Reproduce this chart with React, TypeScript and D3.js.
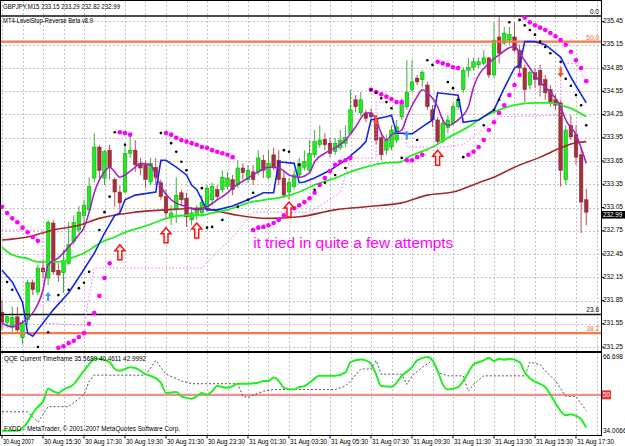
import React from "react";
import * as d3 from "d3";

// GBPJPY M15, one entry per bar: 30 Aug 13:30 -> 31 Aug 18:00
const opens = [
  231.70, 231.57, 231.52, 231.64, 231.37, 231.60, 232.08, 231.96, 232.27, 232.14,
  232.85, 232.24, 232.21, 232.33, 232.61, 232.76, 232.95, 233.02, 233.43, 233.83,
  233.43, 233.79, 233.41, 233.25, 233.25, 233.75, 233.79, 233.62, 233.60, 233.38,
  233.57, 233.37, 233.19, 232.93, 233.02, 233.24, 233.17, 232.89, 232.95, 232.98,
  233.02, 233.15, 233.28, 233.28, 233.32, 233.41, 233.34, 233.56, 233.41, 233.51,
  233.51, 233.66, 233.44, 233.73, 233.66, 233.43, 233.25, 233.32, 233.47, 233.57,
  233.53, 233.73, 233.86, 233.93, 233.88, 233.77, 233.82, 233.88, 234.01, 234.44,
  234.27, 234.27, 234.27, 234.20, 233.95, 233.79, 233.83, 233.92, 234.22, 234.35,
  234.57, 234.72, 234.70, 234.63, 234.31, 234.18, 233.90, 234.08, 234.14, 234.35,
  234.57, 234.82, 234.86, 234.89, 234.91, 234.98, 234.76, 235.25, 235.17, 235.21,
  235.25, 235.08, 234.85, 234.63, 234.79, 234.82, 234.70, 234.57, 234.44, 234.40,
  233.41, 234.11, 233.99, 233.73, 233.15,
];
const highs = [
  231.86, 231.66, 231.77, 231.77, 231.60, 232.12, 232.12, 232.31, 232.37, 232.89,
  232.89, 232.33, 232.50, 232.86, 232.95, 233.07, 233.15, 233.44, 234.01, 233.86,
  233.79, 233.86, 233.44, 233.34, 233.88, 233.99, 233.92, 233.69, 233.66, 233.69,
  233.69, 233.41, 233.28, 233.08, 233.44, 233.28, 233.24, 233.06, 233.08, 233.21,
  233.34, 233.37, 233.34, 233.53, 233.51, 233.47, 233.66, 233.62, 233.60, 233.60,
  233.79, 233.73, 233.79, 233.82, 233.79, 233.53, 233.43, 233.53, 233.69, 233.79,
  233.92, 234.05, 234.11, 234.01, 233.95, 233.95, 234.05, 234.11, 234.57, 234.50,
  234.54, 234.31, 234.33, 234.24, 234.01, 233.99, 234.11, 234.18, 234.46, 234.95,
  234.95, 234.76, 234.82, 234.67, 234.37, 234.22, 234.22, 234.24, 234.40, 234.50,
  234.86, 234.98, 234.98, 234.99, 235.08, 234.99, 235.44, 235.51, 235.38, 235.38,
  235.44, 235.15, 234.89, 234.82, 234.85, 234.89, 234.76, 234.63, 234.50, 234.44,
  234.11, 234.24, 234.11, 233.82, 233.29,
];
const lows = [
  231.47, 231.50, 231.43, 231.43, 231.28, 231.53, 231.92, 231.92, 232.14, 232.05,
  232.18, 232.09, 231.95, 232.31, 232.57, 232.73, 232.79, 232.98, 233.37, 233.41,
  233.34, 233.41, 233.06, 232.98, 233.24, 233.69, 233.51, 233.47, 233.30, 233.34,
  233.34, 233.15, 232.89, 232.82, 232.85, 233.08, 232.80, 232.82, 232.89, 232.93,
  232.99, 233.08, 233.15, 233.24, 233.28, 233.21, 233.30, 233.41, 233.37, 233.34,
  233.47, 233.43, 233.41, 233.53, 233.34, 233.17, 233.15, 233.28, 233.43, 233.53,
  233.51, 233.69, 233.82, 233.79, 233.70, 233.73, 233.79, 233.83, 233.99, 234.28,
  234.23, 234.15, 234.18, 233.86, 233.66, 233.73, 233.79, 233.88, 234.18, 234.31,
  234.53, 234.63, 234.60, 234.31, 234.09, 233.86, 233.88, 234.01, 234.11, 234.31,
  234.53, 234.73, 234.82, 234.85, 234.88, 234.72, 234.73, 234.91, 235.15, 235.15,
  235.06, 234.76, 234.41, 234.57, 234.59, 234.48, 234.44, 234.35, 234.31, 233.32,
  233.34, 233.92, 233.60, 232.72, 232.82,
];
const closes = [
  231.57, 231.64, 231.63, 231.47, 231.56, 232.08, 231.99, 232.27, 232.22, 232.86,
  232.22, 232.18, 232.37, 232.57, 232.86, 232.99, 233.08, 233.32, 233.83, 233.53,
  233.77, 233.57, 233.25, 233.11, 233.75, 233.79, 233.60, 233.56, 233.41, 233.62,
  233.44, 233.19, 232.98, 232.98, 233.21, 233.15, 232.93, 232.98, 233.02, 233.12,
  233.30, 233.32, 233.19, 233.44, 233.43, 233.28, 233.56, 233.50, 233.53, 233.41,
  233.69, 233.53, 233.62, 233.57, 233.41, 233.21, 233.37, 233.47, 233.62, 233.64,
  233.75, 233.90, 233.92, 233.86, 233.75, 233.88, 233.92, 233.95, 234.31, 234.35,
  234.44, 234.20, 234.22, 233.92, 233.73, 233.92, 234.05, 234.09, 234.41, 234.54,
  234.67, 234.67, 234.79, 234.35, 234.18, 233.90, 234.14, 234.18, 234.35, 234.44,
  234.82, 234.86, 234.93, 234.93, 234.98, 234.76, 235.21, 235.04, 235.30, 235.28,
  235.08, 234.85, 234.57, 234.79, 234.70, 234.63, 234.53, 234.41, 234.37, 233.53,
  234.05, 233.96, 233.70, 233.12, 232.99,
];

// indicator lines as [bar, price]
const blueLine: [number, number][] = [
  [0, 232.24], [2, 232.09], [4, 231.83], [5, 231.43], [6, 231.39], [8, 231.56], [10, 231.73],
  [13, 231.95], [15, 232.15], [18, 232.46], [20, 232.72], [22, 232.95], [23, 232.98], [24, 233.15],
  [26, 233.21], [30, 233.25], [31, 233.66], [32, 233.66], [34, 233.57], [36, 233.47], [37, 233.34],
  [38, 233.28], [39, 233.15], [40, 233.02], [42, 233.02], [45, 233.07], [48, 233.15], [51, 233.24],
  [53, 233.24], [54, 233.64], [57, 233.62], [58, 233.37], [59, 233.38], [61, 233.43], [64, 233.53],
  [67, 233.66], [70, 233.83], [71, 233.90], [72, 234.18], [75, 234.22], [76, 234.24], [77, 234.01],
  [80, 234.0], [82, 234.09], [84, 234.18], [85, 234.53], [89, 234.50], [90, 234.15], [93, 234.18],
  [96, 234.31], [98, 234.59], [100, 234.85], [101, 234.89], [102, 235.19], [104, 235.19],
  [106, 235.15], [109, 234.99], [111, 234.73], [114, 234.40],
];
const purpleLine: [number, number][] = [
  [0, 231.56], [2, 231.51], [4, 231.57], [6, 231.69], [8, 231.99], [9, 232.31], [11, 232.40],
  [13, 232.54], [15, 232.70], [16, 232.79], [17, 232.99], [18, 233.24], [20, 233.51], [21, 233.57],
  [22, 233.51], [23, 233.44], [24, 233.47], [26, 233.57], [27, 233.62], [29, 233.60], [30, 233.47],
  [31, 233.32], [33, 233.15], [36, 233.06], [38, 233.02], [40, 233.06], [42, 233.15], [44, 233.24],
  [45, 233.30], [48, 233.43], [50, 233.51], [52, 233.57], [54, 233.56], [56, 233.47], [58, 233.44],
  [60, 233.50], [61, 233.64], [63, 233.75], [65, 233.82], [67, 233.92], [69, 234.09], [71, 234.27],
  [72, 234.27], [73, 234.18], [74, 234.01], [75, 233.92], [76, 233.99], [78, 234.05], [79, 234.22],
  [81, 234.48], [82, 234.57], [83, 234.53], [85, 234.35], [86, 234.18], [87, 234.11], [89, 234.18],
  [91, 234.35], [92, 234.60], [95, 234.91], [97, 235.02], [99, 235.11], [100, 235.13], [101, 235.04],
  [103, 234.85], [105, 234.67], [108, 234.46], [109, 234.35], [110, 234.18], [112, 233.99],
  [114, 233.62],
];
const greenMa: [number, number][] = [
  [0, 232.54], [2, 232.44], [5, 232.39], [7, 232.35], [11, 232.35], [14, 232.41], [17, 232.50],
  [19, 232.59], [22, 232.67], [24, 232.73], [27, 232.79], [30, 232.86], [32, 232.91], [36, 232.95],
  [39, 232.95], [41, 232.98], [44, 233.02], [48, 233.11], [55, 233.19], [58, 233.25], [61, 233.34],
  [65, 233.43], [68, 233.51], [71, 233.57], [74, 233.62], [78, 233.64], [79, 233.69], [81, 233.75],
  [84, 233.83], [87, 233.95], [91, 234.09], [94, 234.22], [97, 234.31], [100, 234.37], [104, 234.40],
  [107, 234.40], [109, 234.37], [111, 234.33], [114, 234.22],
];
const brownMa: [number, number][] = [
  [0, 232.63], [5, 232.67], [10, 232.76], [15, 232.82], [19, 232.91], [26, 232.99], [32, 233.02],
  [39, 233.04], [43, 232.99], [46, 232.95], [52, 232.91], [58, 232.93], [65, 233.02], [71, 233.06],
  [78, 233.11], [83, 233.21], [88, 233.25], [93, 233.37], [96, 233.44], [100, 233.57], [105, 233.70],
  [109, 233.82], [111, 233.87], [114, 233.90],
];
const stopLine: [number, number][] = [
  [0, 232.76], [8, 232.76], [8, 231.56], [16, 231.53], [18, 232.27], [39, 232.27], [41, 232.41],
  [45, 232.67], [49, 232.99], [60, 232.99], [66, 233.24], [68, 233.69], [73, 233.69], [73, 234.41],
  [78, 234.41], [79, 233.83], [86, 233.83], [90, 233.86], [97, 234.22], [109, 234.24], [109, 234.91],
  [112, 234.91], [114, 234.67],
];
const sarDots: [number, number][] = [
  [0, 233.06], [1, 232.98], [2, 232.91], [3, 232.86], [4, 232.79], [5, 232.73], [6, 232.67], [7, 232.62],
  [11, 231.24], [12, 231.26], [13, 231.30], [14, 231.33], [15, 231.38], [16, 231.43], [17, 231.55],
  [18, 231.69], [19, 231.91], [20, 232.14], [21, 232.33],
  [23, 234.02], [24, 234.01], [25, 233.99],
  [32, 234.01], [33, 233.99], [34, 233.95], [35, 233.92], [36, 233.90], [37, 233.88], [38, 233.86],
  [39, 233.83], [40, 233.82], [41, 233.79], [42, 233.77], [43, 233.75], [44, 233.73], [45, 233.70],
  [49, 232.76], [50, 232.79], [51, 232.80], [52, 232.82], [53, 232.85], [54, 232.89], [55, 232.95],
  [56, 232.99], [57, 233.04], [58, 233.08], [59, 233.12], [60, 233.17], [61, 233.24], [62, 233.34],
  [63, 233.43], [64, 233.52], [65, 233.60], [66, 233.64], [67, 233.66], [68, 233.69],
  [72, 234.57], [73, 234.54], [74, 234.51], [75, 234.48], [76, 234.45], [77, 234.41], [78, 234.41],
  [79, 233.66], [80, 233.66], [81, 233.70], [82, 233.73],
  [85, 234.93], [86, 234.91], [87, 234.89], [88, 234.86], [89, 234.85],
  [91, 233.73], [92, 233.77], [93, 233.83], [94, 233.92], [95, 234.05], [96, 234.15], [97, 234.27],
  [98, 234.37], [99, 234.50], [100, 234.63], [101, 234.76],
  [102, 235.50], [103, 235.44], [104, 235.40], [105, 235.37], [106, 235.34], [107, 235.30],
  [108, 235.26], [109, 235.21], [110, 235.15], [111, 235.06], [112, 234.95], [113, 234.85], [114, 234.68],
];
const blackDots: [number, number][] = [
  [1, 232.09], [2, 231.99], [7, 231.25], [9, 231.44], [11, 231.92], [13, 231.99], [15, 232.01],
  [16, 232.08], [17, 232.22], [19, 232.76], [20, 232.99], [21, 233.19], [22, 234.02], [24, 233.86],
  [31, 234.01], [33, 233.88], [34, 233.77], [35, 233.64], [36, 233.53], [39, 233.30], [40, 232.79],
  [41, 232.80], [43, 232.89], [46, 233.06], [48, 233.15], [49, 233.24], [55, 233.79], [56, 233.77],
  [58, 233.60], [61, 233.28], [63, 233.37], [65, 233.47], [67, 233.56], [72, 234.57], [73, 234.53],
  [74, 234.46], [75, 234.41], [76, 234.33], [78, 233.69], [81, 233.92], [83, 234.95], [84, 234.89],
  [87, 234.67], [88, 234.59], [89, 234.44], [90, 233.70], [94, 234.11], [96, 234.31], [97, 234.44],
  [99, 235.44], [101, 235.47], [102, 235.40], [103, 235.34], [104, 235.28], [105, 235.19],
  [106, 235.12], [107, 235.04], [109, 234.93], [110, 234.71], [111, 234.62], [112, 234.50],
  [113, 234.37], [114, 234.11],
];
// signal arrows, [bar, price of the tip]
const upArrows: [number, number][] = [[23, 232.57], [32, 232.79], [38, 232.85], [56, 233.12], [85, 233.79]];
const blueArrows: [number, number][] = [[9, 231.96], [79, 234.04]];
const downArrows: [number, number][] = [[73, 234.11], [109, 234.73]];

const fibNames = ["0.0", "50.0", "23.6", "38.2"];
const fibPrices = [235.52, 235.19, 231.67, 231.43];

const priceTicks = [
  235.45, 235.15, 234.85, 234.55, 234.25, 233.95, 233.65, 233.35,
  233.05, 232.75, 232.45, 232.15, 231.85, 231.55, 231.25,
];
const timeLabels = [
  "30 Aug 2007", "30 Aug 15:30", "30 Aug 17:30", "30 Aug 19:30", "30 Aug 21:30",
  "30 Aug 23:30", "31 Aug 01:30", "31 Aug 03:30", "31 Aug 05:30", "31 Aug 07:30",
  "31 Aug 09:30", "31 Aug 11:30", "31 Aug 13:30", "31 Aug 15:30", "31 Aug 17:30",
];

// QQE sub window, [bar, value]
const qqeFast: [number, number][] = [
  [0, 34.17], [3, 34.17], [5, 37.96], [6, 41.74], [7, 44.76], [8, 47.03], [9, 52.63], [10, 51.57],
  [11, 50.81], [12, 52.33], [14, 54.6], [15, 57.62], [16, 60.65], [17, 63.5], [18, 65.94], [19, 65.94],
  [21, 64.43], [22, 61.4], [23, 60.65], [25, 62.16], [26, 61.86], [27, 60.65], [28, 59.13], [29, 58.38],
  [31, 55.35], [32, 50.81], [34, 51.27], [35, 49.3], [37, 48.24], [38, 49.3], [39, 50.81], [40, 50.06],
  [41, 51.57], [42, 53.84], [44, 53.08], [45, 53.84], [46, 54.9], [48, 54.9], [50, 55.35], [51, 56.11],
  [52, 56.11], [53, 57.62], [54, 56.11], [55, 53.08], [57, 52.33], [58, 53.39], [59, 53.84], [60, 55.35],
  [62, 58.38], [64, 58.38], [65, 58.38], [67, 59.89], [68, 64.43], [70, 65.64], [71, 65.19], [72, 63.67],
  [73, 59.13], [74, 53.84], [76, 53.54], [77, 55.35], [78, 58.38], [80, 62.16], [81, 65.19], [83, 66.7],
  [84, 65.19], [85, 60.65], [86, 54.6], [87, 52.33], [89, 53.39], [90, 56.11], [91, 59.89], [92, 63.37],
  [94, 65.19], [95, 66.4], [96, 64.88], [97, 65.94], [98, 65.49], [99, 65.94], [101, 64.43], [102, 59.89],
  [103, 57.32], [104, 55.8], [106, 53.39], [107, 50.06], [108, 46.28], [110, 40.98], [111, 41.43],
  [112, 40.68], [113, 39.17], [114, 35.57],
];
const qqeSlow: [number, number][] = [
  [0, 42.49], [5, 42.49], [7, 37.96], [9, 44.76], [13, 44.76], [16, 50.06], [17, 56.0], [18, 58.68],
  [28, 58.68], [30, 65.19], [31, 62.16], [32, 59.13], [35, 56.11], [37, 54.9], [46, 54.9], [47, 49.3],
  [48, 48.85], [51, 51.57], [53, 52.33], [65, 52.33], [67, 53.84], [68, 56.11], [70, 61.4], [72, 61.4],
  [73, 65.19], [74, 59.13], [78, 59.13], [79, 54.6], [80, 58.38], [82, 62.16], [84, 65.19], [85, 59.89],
  [87, 58.38], [90, 58.38], [91, 51.57], [92, 54.6], [94, 58.38], [102, 58.38], [103, 64.43],
  [105, 63.37], [106, 60.65], [108, 56.11], [110, 49.3], [112, 49.3], [114, 43.0],
];
const qqeTicks = [66.698, 34.0066];
const qqeLevel = 50;

const FONT = "Tahoma, 'Liberation Sans', Arial, sans-serif";

export default function App() {
  const plotR = 601;
  const mainB = 350.5;
  const subT = 352.5;
  const subB = 435.5;

  const x = d3.scaleLinear().domain([0, 114]).range([2, 586.25]);
  const y = d3.scaleLinear().domain([231.25, 235.45]).range([347.05, 21.47]);
  const yq = d3.scaleLinear().domain([34.0066, 66.698]).range([431, 357]);

  const straight = d3.line<[number, number]>().x((d) => x(d[0])).y((d) => y(d[1]));
  const smooth = d3
    .line<[number, number]>()
    .x((d) => x(d[0]))
    .y((d) => y(d[1]))
    .curve(d3.curveMonotoneX);
  const qLine = d3
    .line<[number, number]>()
    .x((d) => x(d[0]))
    .y((d) => yq(d[1]));
  const qSmooth = d3
    .line<[number, number]>()
    .x((d) => x(d[0]))
    .y((d) => yq(d[1]))
    .curve(d3.curveMonotoneX);

  const gridBars = d3.range(0, 117, 4);
  const last = closes.length - 1;
  const lastY = y(closes[last]);

  const upArrow = (cx: number, ty: number) =>
    `M${cx},${ty}L${cx + 5},${ty + 6}L${cx + 2},${ty + 6}L${cx + 2},${ty + 15}L${cx - 2},${ty + 15}L${cx - 2},${ty + 6}L${cx - 5},${ty + 6}Z`;
  const smallUp = (cx: number, ty: number) =>
    `M${cx},${ty}L${cx + 3},${ty + 4}L${cx + 1},${ty + 4}L${cx + 1},${ty + 9}L${cx - 1},${ty + 9}L${cx - 1},${ty + 4}L${cx - 3},${ty + 4}Z`;
  const smallDown = (cx: number, by: number) =>
    `M${cx},${by}L${cx - 3.5},${by - 4}L${cx - 1.2},${by - 4}L${cx - 1.2},${by - 10}L${cx + 1.2},${by - 10}L${cx + 1.2},${by - 4}L${cx + 3.5},${by - 4}Z`;

  return (
    <svg
      width={625}
      height={446}
      style={{ position: "absolute", left: 0, top: 0, background: "#fff" }}
      fontFamily={FONT}
    >
      <defs>
        <clipPath id="mainClip">
          <rect x={1} y={1} width={plotR - 1} height={mainB - 1} />
        </clipPath>
        <clipPath id="subClip">
          <rect x={1} y={subT} width={plotR - 1} height={subB - subT} />
        </clipPath>
      </defs>
      <rect x={0} y={0} width={625} height={446} fill="#fff" />

      {/* grid */}
      <g stroke="#c4c4c4" strokeWidth={1} strokeDasharray="2,2" shapeRendering="crispEdges">
        {gridBars.map((b) => (
          <g key={b}>
            <line x1={Math.round(x(b)) + 0.5} x2={Math.round(x(b)) + 0.5} y1={1} y2={mainB} />
            <line x1={Math.round(x(b)) + 0.5} x2={Math.round(x(b)) + 0.5} y1={subT} y2={subB} />
          </g>
        ))}
        {priceTicks.map((p) => (
          <line key={p} x1={1} x2={plotR} y1={Math.round(y(p)) + 0.5} y2={Math.round(y(p)) + 0.5} />
        ))}
      </g>

      <g clipPath="url(#mainClip)">
        {/* candles */}
        {opens.map((o, i) => {
          const c = closes[i];
          const bull = c >= o;
          const cx = x(i);
          const top = y(Math.max(o, c));
          const bot = y(Math.min(o, c));
          return (
            <g key={i}>
              <line
                x1={cx}
                x2={cx}
                y1={y(highs[i])}
                y2={y(lows[i])}
                stroke={bull ? "#3fae3f" : "#b9505a"}
                strokeWidth={1}
              />
              <rect
                x={cx - 1.8}
                y={top}
                width={3.6}
                height={Math.max(1, bot - top)}
                fill={bull ? "#1eec1e" : "#a3303d"}
                stroke={bull ? "#0f9a0f" : "#8e2532"}
                strokeWidth={0.5}
              />
            </g>
          );
        })}

        {/* fibonacci levels */}
        {fibNames.map((n, i) => {
          const dark = n === "0.0" || n === "23.6";
          const col = dark ? "#111" : "#f47a4a";
          const ly = y(fibPrices[i]);
          return (
            <g key={n}>
              <line x1={1} x2={plotR} y1={ly} y2={ly} stroke={col} strokeWidth={dark ? 1.6 : 2.2} />
              <text x={plotR - 2} y={ly - 2} fontSize={6.5} textAnchor="end" fill={dark ? "#000" : "#f4683a"}>
                {n}
              </text>
            </g>
          );
        })}

        {/* indicator lines */}
        <path d={smooth(brownMa) ?? ""} fill="none" stroke="#a52a2a" strokeWidth={1.6} />
        <path d={smooth(greenMa) ?? ""} fill="none" stroke="#22ee22" strokeWidth={1.8} />
        <path d={straight(stopLine) ?? ""} fill="none" stroke="#ee77ee" strokeWidth={1} strokeDasharray="1.5,2" />
        <path d={straight(blueLine) ?? ""} fill="none" stroke="#1426e6" strokeWidth={1.6} />
        <path d={smooth(purpleLine) ?? ""} fill="none" stroke="#a326c4" strokeWidth={1.6} />

        {sarDots.map(([b, p], i) => (
          <circle key={"s" + i} cx={x(b)} cy={y(p)} r={2.3} fill="#ff00ff" />
        ))}
        {blackDots.map(([b, p], i) => (
          <circle key={"k" + i} cx={x(b)} cy={y(p)} r={1.3} fill="#000" />
        ))}

        {upArrows.map(([b, p], i) => (
          <path key={"u" + i} d={upArrow(x(b), y(p))} fill="#fff" stroke="#ff1010" strokeWidth={1.5} />
        ))}
        {blueArrows.map(([b, p], i) => (
          <path key={"b" + i} d={smallUp(x(b), y(p))} fill="#3a9cff" />
        ))}
        {downArrows.map(([b, p], i) => (
          <path key={"d" + i} d={smallDown(x(b), y(p))} fill="#ff5020" />
        ))}

        <text
          x={x(49)}
          y={y(232.53)}
          fontSize={15.4}
          fill="#ff00ff"
          fontFamily="'Liberation Sans', Arial, sans-serif"
        >
          it tried in quite a few attempts
        </text>

        <text x={3} y={8.5} fontSize={6.5} textLength={117} lengthAdjust="spacingAndGlyphs" fill="#000">
          {`GBPJPY,M15  ${opens[last].toFixed(2)} ${highs[last].toFixed(2)} ${lows[last].toFixed(2)} ${closes[last].toFixed(2)}`}
        </text>
        <text x={3} y={23} fontSize={6.5} textLength={90} lengthAdjust="spacingAndGlyphs" fill="#000">
          MT4-LevelStop-Reverse Beta v8.9
        </text>
      </g>

      {/* QQE sub window */}
      <g clipPath="url(#subClip)">
        <line x1={1} x2={plotR} y1={yq(qqeLevel)} y2={yq(qqeLevel)} stroke="#f29090" strokeWidth={2.2} />
        <path d={qLine(qqeSlow) ?? ""} fill="none" stroke="#555" strokeWidth={1} strokeDasharray="2,2" />
        <path d={qSmooth(qqeFast) ?? ""} fill="none" stroke="#22ee22" strokeWidth={2} />
      </g>
      <text x={4} y={360.5} fontSize={6.5} textLength={142} lengthAdjust="spacingAndGlyphs" fill="#000">
        QQE Current Timeframe 35.5689 40.4611 42.9992
      </text>
      <text x={4} y={431} fontSize={6.5} textLength={176} lengthAdjust="spacingAndGlyphs" fill="#000">
        FXDD - MetaTrader, © 2001-2007 MetaQuotes Software Corp.
      </text>

      {/* frames */}
      <g fill="none" stroke="#000" strokeWidth={1} shapeRendering="crispEdges">
        <rect x={0.5} y={0.5} width={plotR} height={mainB} />
        <rect x={0.5} y={subT} width={plotR} height={subB - subT} />
      </g>

      {/* price axis */}
      <g fontSize={6.5} fill="#000">
        {priceTicks.map((p) => (
          <g key={p}>
            <line x1={plotR} x2={plotR + 3} y1={y(p)} y2={y(p)} stroke="#000" />
            <text x={603} y={y(p) + 1.6}>
              {p.toFixed(2)}
            </text>
          </g>
        ))}
      </g>
      <rect x={plotR + 0.5} y={lastY - 1.2} width={24} height={7.6} fill="#000" />
      <text x={603} y={lastY + 5} fontSize={6.3} fill="#fff">
        {closes[last].toFixed(2)}
      </text>

      {/* QQE axis */}
      <g fontSize={6.5} fill="#000">
        {qqeTicks.map((v) => (
          <text key={v} x={603} y={yq(v) + 2.4}>
            {String(v)}
          </text>
        ))}
      </g>
      <rect x={plotR + 1} y={yq(qqeLevel) - 4.5} width={9} height={9} fill="#f23030" />
      <text x={603} y={yq(qqeLevel) + 2.4} fontSize={6.5} fill="#fff">
        {String(qqeLevel)}
      </text>

      {/* time axis */}
      <g fontSize={6.5} fill="#000">
        {timeLabels.map((t, k) => {
          const tx = x(k * 8);
          return (
            <g key={t}>
              <line x1={tx} x2={tx} y1={subB} y2={subB + 3} stroke="#000" />
              <text
                x={tx + 1}
                y={444}
                textLength={k === 0 ? 31 : 37}
                lengthAdjust="spacingAndGlyphs"
              >
                {t}
              </text>
            </g>
          );
        })}
      </g>
    </svg>
  );
}
